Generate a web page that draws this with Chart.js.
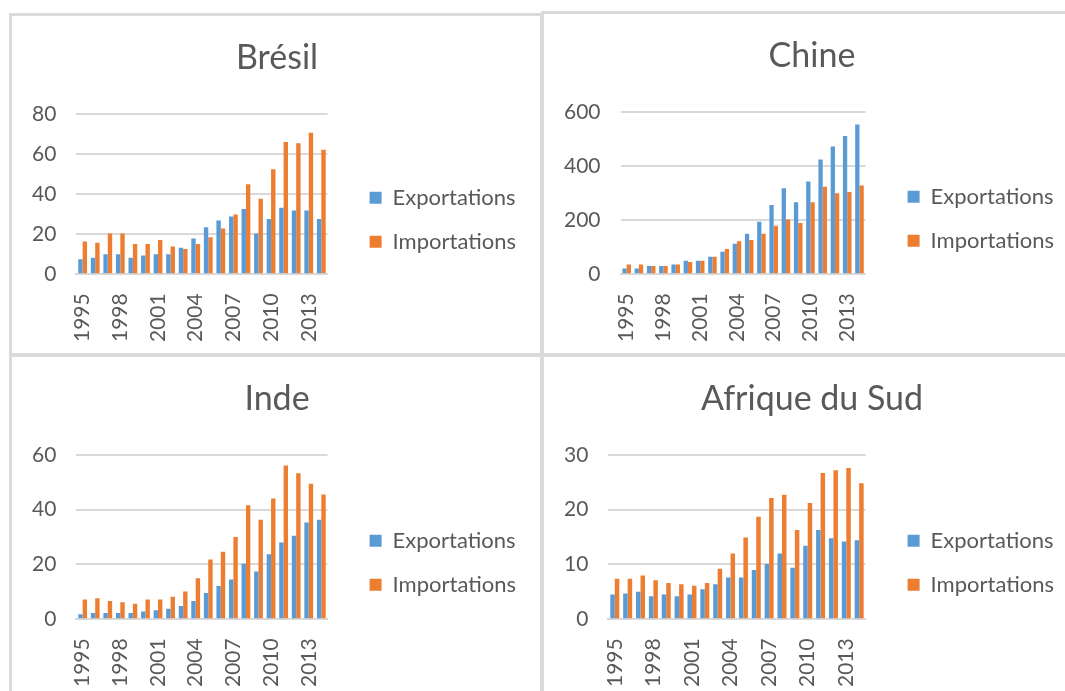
<!DOCTYPE html>
<html>
<head>
  <title>BRICS - Exportations / Importations</title>
  <script src="https://cdn.jsdelivr.net/npm/chart.js"></script>
  <style>
    body {
      margin: 0;
      width: 1065px;
      height: 691px;
      overflow: hidden;
      position: relative;
      background: #fff;
      font-family: Lato, sans-serif;
    }
    .panel {
      position: absolute;
      box-sizing: border-box;
      border: 3px solid #dadada;
      background: #fff;
    }
    .panel canvas { position: absolute; left: 0; top: 0; }
    #p1 { left: 9px;   top: 13px;  width: 534px; height: 343px; }
    #p2 { left: 541px; top: 11px;  width: 540px; height: 345px; }
    #p3 { left: 9px;   top: 354px; width: 534px; height: 347px; }
    #p4 { left: 541px; top: 354px; width: 540px; height: 347px; }
  </style>
</head>
<body>

  <div class="panel" id="p1"><canvas id="c1" width="528" height="337"></canvas></div>
  <div class="panel" id="p2"><canvas id="c2" width="534" height="339"></canvas></div>
  <div class="panel" id="p3"><canvas id="c3" width="528" height="341"></canvas></div>
  <div class="panel" id="p4"><canvas id="c4" width="534" height="341"></canvas></div>

  <script>
    const years = ['1995','1996','1997','1998','1999','2000','2001','2002','2003','2004',
                   '2005','2006','2007','2008','2009','2010','2011','2012','2013','2014'];

    // Brésil
    const bresilExport = [7.5, 8.2, 10, 10, 8.2, 9.4, 10, 10, 13.2, 17.8, 23.4, 26.8, 28.8, 32.5, 20.3, 27.5, 33.2, 31.8, 31.8, 27.5];
    const bresilImport = [16.4, 15.7, 20.3, 20.3, 15.1, 15.1, 17.1, 13.9, 12.6, 15.1, 18.4, 22.8, 29.8, 44.9, 37.7, 52.4, 66, 65.3, 70.5, 62.1];

    // Chine
    const chineExport = [21, 21, 31, 31, 36, 50, 50, 65, 83, 113, 150, 194, 256, 318, 266, 343, 424, 472, 511, 553];
    const chineImport = [36, 36, 31, 31, 36, 45, 50, 65, 93, 122, 127, 150, 179, 202, 189, 266, 323, 299, 304, 328];

    // Inde
    const indeExport = [1.8, 2.3, 2.3, 2.3, 2.3, 2.8, 3.3, 3.8, 4.8, 6.7, 9.6, 12.1, 14.5, 20.3, 17.4, 23.7, 28, 30.5, 35.3, 36.3];
    const indeImport = [7.2, 7.7, 6.7, 6.2, 5.7, 7.2, 7.2, 8.2, 10.1, 15, 21.8, 24.6, 30, 41.6, 36.3, 44.1, 56.1, 53.3, 49.4, 45.5];

    // Afrique du Sud
    const afsudExport = [4.5, 4.7, 5.0, 4.2, 4.5, 4.2, 4.5, 5.5, 6.4, 7.6, 7.6, 9.0, 10.1, 12.0, 9.4, 13.4, 16.3, 14.8, 14.2, 14.4];
    const afsudImport = [7.4, 7.4, 8.0, 7.1, 6.6, 6.4, 6.1, 6.6, 9.2, 12.0, 14.9, 18.7, 22.1, 22.7, 16.3, 21.2, 26.7, 27.2, 27.6, 24.8];

    const blue = '#5b9bd5';
    const orange = '#ed7d31';
    const grey = '#595959';
    const gridGrey = '#d9d9d9';

    // title is centred a bit right of the canvas middle in the original
    const shiftTitle = {
      id: 'shiftTitle',
      afterLayout(chart) { if (chart.titleBlock) chart.titleBlock.left += 16; }
    };

    function makeChart(id, title, exp, imp, yMax, yStep) {
      return new Chart(document.getElementById(id).getContext('2d'), {
        type: 'bar',
        data: {
          labels: years,
          datasets: [
            { label: 'Exportations', data: exp, backgroundColor: blue },
            { label: 'Importations', data: imp, backgroundColor: orange }
          ]
        },
        plugins: [shiftTitle],
        options: {
          responsive: false,
          animation: false,
          categoryPercentage: 0.7,
          barPercentage: 1,
          layout: { padding: { left: 0, right: 14, top: 0, bottom: 0 } },
          plugins: {
            title: {
              display: true, text: title, color: grey,
              font: { family: 'Lato', size: 34, weight: 'normal' },
              padding: { top: 22, bottom: 35 }
            },
            legend: {
              position: 'right',
              maxWidth: 260,
              // empty title only pushes the two items down to the middle of the plot
              title: { display: true, text: '', padding: { top: 56, bottom: 0 } },
              labels: {
                color: grey, boxWidth: 12, boxHeight: 12, padding: 22,
                font: { family: 'Lato', size: 22 }
              }
            },
            tooltip: { enabled: false }
          },
          scales: {
            x: {
              grid: { display: false },
              border: { color: gridGrey, width: 2 },
              ticks: {
                autoSkip: false, maxRotation: 90, minRotation: 90, padding: 11,
                color: grey, font: { family: 'Lato', size: 21 },
                callback: (v, i) => i % 3 === 0 ? years[i] : ''
              }
            },
            y: {
              min: 0, max: yMax,
              grid: { color: gridGrey, lineWidth: 2, drawTicks: false },
              border: { display: false },
              ticks: {
                stepSize: yStep, padding: 20,
                color: grey, font: { family: 'Lato', size: 21 }
              }
            },
            // empty right-hand axis: only keeps a gap between the bars and the legend
            gap: {
              type: 'linear', position: 'right', display: true,
              grid: { display: false }, border: { display: false },
              ticks: { display: false },
              afterFit: s => { s.width = 20; }
            }
          }
        }
      });
    }

    makeChart('c1', 'Brésil', bresilExport, bresilImport, 80, 20);
    makeChart('c2', 'Chine', chineExport, chineImport, 600, 200);
    makeChart('c3', 'Inde', indeExport, indeImport, 60, 20);
    makeChart('c4', 'Afrique du Sud', afsudExport, afsudImport, 30, 10);
  </script>
</body>
</html>
